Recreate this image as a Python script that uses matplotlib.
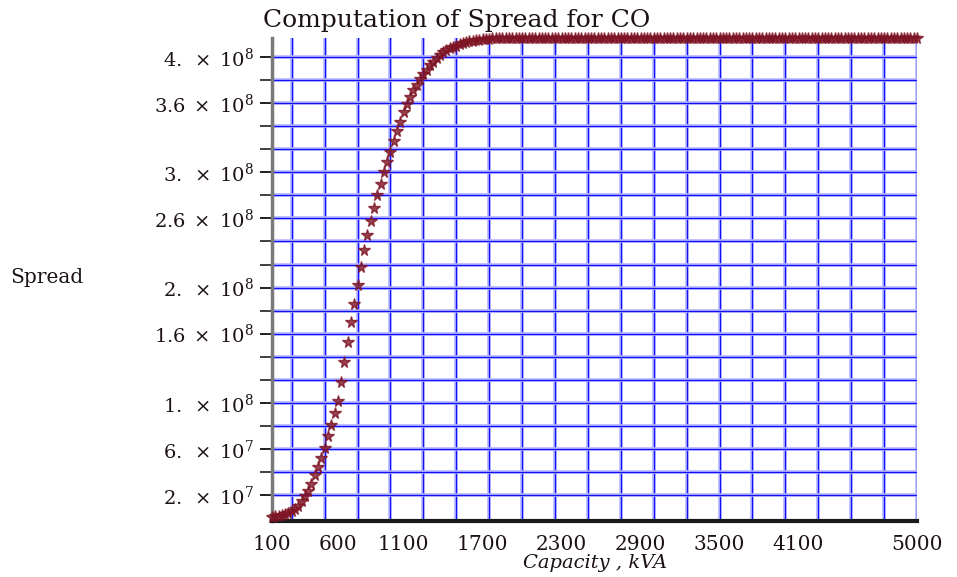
import matplotlib.pyplot as plt
import matplotlib.patheffects as pe
from matplotlib.ticker import FixedLocator, MultipleLocator
import numpy as np

# capacity grid in kVA, one point every 25 kVA
capacity = np.arange(100, 5001, 25)

# spread (x 1e8) while it is still rising, 100 .. 1800 kVA
spread_rise = [
    0.010, 0.015, 0.022, 0.030, 0.038, 0.047, 0.060, 0.078, 0.105, 0.150,
    0.190, 0.235, 0.300, 0.370, 0.440, 0.520, 0.610, 0.710, 0.810, 0.910,
    1.020, 1.180, 1.350, 1.530, 1.700, 1.860, 2.020, 2.180, 2.330, 2.460,
    2.580, 2.690, 2.800, 2.900, 3.000, 3.090, 3.180, 3.270, 3.360, 3.440,
    3.520, 3.590, 3.650, 3.710, 3.760, 3.810, 3.850, 3.890, 3.930, 3.960,
    3.990, 4.020, 4.040, 4.060, 4.075, 4.090, 4.100, 4.110, 4.120, 4.130,
    4.137, 4.143, 4.148, 4.152, 4.155, 4.158, 4.160, 4.162, 4.163,
]
# saturated part, 1825 .. 5000 kVA
spread_flat = [
    4.165, 4.165, 4.165, 4.165, 4.165, 4.165, 4.165, 4.165, 4.165, 4.165, 4.165, 4.165, 4.165, 4.165, 4.165, 4.165,
    4.165, 4.165, 4.165, 4.165, 4.165, 4.165, 4.165, 4.165, 4.165, 4.165, 4.165, 4.165, 4.165, 4.165, 4.165, 4.165,
    4.165, 4.165, 4.165, 4.165, 4.165, 4.165, 4.165, 4.165, 4.165, 4.165, 4.165, 4.165, 4.165, 4.165, 4.165, 4.165,
    4.165, 4.165, 4.165, 4.165, 4.165, 4.165, 4.165, 4.165, 4.165, 4.165, 4.165, 4.165, 4.165, 4.165, 4.165, 4.165,
    4.165, 4.165, 4.165, 4.165, 4.165, 4.165, 4.165, 4.165, 4.165, 4.165, 4.165, 4.165, 4.165, 4.165, 4.165, 4.165,
    4.165, 4.165, 4.165, 4.165, 4.165, 4.165, 4.165, 4.165, 4.165, 4.165, 4.165, 4.165, 4.165, 4.165, 4.165, 4.165,
    4.165, 4.165, 4.165, 4.165, 4.165, 4.165, 4.165, 4.165, 4.165, 4.165, 4.165, 4.165, 4.165, 4.165, 4.165, 4.165,
    4.165, 4.165, 4.165, 4.165, 4.165, 4.165, 4.165, 4.165, 4.165, 4.165, 4.165, 4.165, 4.165, 4.165, 4.165, 4.165,
]
spread = np.array(spread_rise + spread_flat) * 1e8

xtick_vals = [100, 600, 1100, 1700, 2300, 2900, 3500, 4100, 5000]
ytick_vals = [4e8, 3.6e8, 3e8, 2.6e8, 2e8, 1.6e8, 1e8, 6e7, 2e7]
ytick_text = [r'$4.\;\times\;10^{8}$', r'$3.6\;\times\;10^{8}$', r'$3.\;\times\;10^{8}$',
              r'$2.6\;\times\;10^{8}$', r'$2.\;\times\;10^{8}$', r'$1.6\;\times\;10^{8}$',
              r'$1.\;\times\;10^{8}$', r'$6.\;\times\;10^{7}$', r'$2.\;\times\;10^{7}$']

plt.rcParams['font.family'] = 'DejaVu Serif'
plt.rcParams['mathtext.fontset'] = 'dejavuserif'
txt = '#1c1212'

fig = plt.figure(figsize=(9.57, 5.77), dpi=100)
ax = fig.add_axes([0.2842, 0.0971, 0.674, 0.837])

ax.plot(capacity, spread, ls='none', marker='*', ms=8.5, color='#7e1424',
        alpha=0.8, clip_on=False, zorder=3)

ax.set_xlim(100, 5000)
ax.set_ylim(-2.5e6, 4.165e8)

# labelled ticks
ax.set_xticks(xtick_vals)
ax.set_xticklabels([str(v) for v in xtick_vals])
ax.set_yticks(ytick_vals)
ax.set_yticklabels(ytick_text)

# grid lines sit on the minor ticks
ax.xaxis.set_minor_locator(MultipleLocator(250))
ax.yaxis.set_minor_locator(FixedLocator([2e7 * k for k in range(1, 21)]))
ax.xaxis.remove_overlapping_locs = False
ax.yaxis.remove_overlapping_locs = False
ax.grid(False, which='major')
ax.grid(True, which='minor', color='#1010ff', lw=0.9)
for t in ax.xaxis.get_minor_ticks() + ax.yaxis.get_minor_ticks():
    t.gridline.set_path_effects([pe.Stroke(linewidth=2.6, foreground='#b4b4ff'), pe.Normal()])

ax.tick_params(axis='x', which='both', length=0, pad=10, labelsize=14.5, labelcolor=txt)
ax.tick_params(axis='y', which='both', direction='out', length=9, width=1.2,
               color='#202020', pad=4, labelsize=14, labelcolor=txt)

for s in ['top', 'right']:
    ax.spines[s].set_visible(False)
ax.spines['left'].set_color('#7a7a7a')
ax.spines['left'].set_linewidth(2.5)
ax.spines['bottom'].set_color('#1a1a1a')
ax.spines['bottom'].set_linewidth(3)

fig.text(457 / 957, 1 - 20 / 577, 'Computation of Spread for CO', ha='center',
         va='center', fontsize=18, color=txt)
fig.text(10 / 957, 1 - 278 / 577, 'Spread', ha='left', va='center',
         fontsize=14.5, color=txt)
fig.text(595 / 957, 1 - 563 / 577, 'Capacity , kVA', ha='center', va='center',
         fontsize=14, style='italic', color=txt)

fig.savefig('out.png', dpi=100)
